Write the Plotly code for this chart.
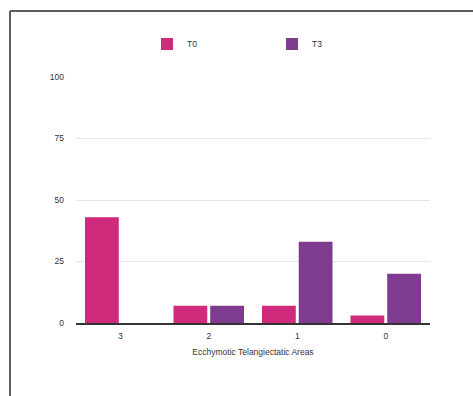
import plotly.graph_objects as go

# Ecchymotic telangiectatic areas score, share of cases at each time point
categories = ["3", "2", "1", "0"]
t0_values = [43, 7, 7, 3]
t3_values = [0, 7, 33, 20]
series_names = ["T0", "T3"]
y_ticks = [0, 25, 50, 75, 100]

colors = ["#cf2a7b", "#7f3b8f"]
font_family = "Liberation Sans, Arial, sans-serif"

fig = go.Figure()
for name, vals, col in zip(series_names, [t0_values, t3_values], colors):
    fig.add_trace(go.Bar(
        x=categories, y=vals, name=name,
        marker=dict(color=col, line=dict(width=0)),
    ))

W, H = 473, 396
L, R, T, B = 76, 43, 77, 73
pw, ph = W - L - R, H - T - B

def px_x(x):
    return (x - L) / pw

def px_y(y):
    return 1 - (y - T) / ph

fig.update_layout(
    width=W, height=H,
    margin=dict(l=L, r=R, t=T, b=B, pad=0),
    paper_bgcolor="white", plot_bgcolor="white",
    font=dict(family=font_family, size=8.5, color="#333"),
    barmode="group", bargap=0.17, bargroupgap=0.08,
    showlegend=True,
    legend=dict(
        orientation="h", x=px_x(272), xanchor="center",
        y=px_y(44), yanchor="middle",
        entrywidth=80, entrywidthmode="pixels",
        font=dict(size=8.5, color="#333"),
        bgcolor="rgba(0,0,0,0)",
    ),
    xaxis=dict(
        showline=True, linecolor="#333", linewidth=1.5,
        showgrid=False, ticks="", tickfont=dict(size=8.5),
        ticklabelstandoff=4,
        title=dict(text="Ecchymotic Telangiectatic Areas",
                   font=dict(size=8.5), standoff=9),
    ),
    yaxis=dict(
        range=[0, 100], tickvals=y_ticks,
        showgrid=True, gridcolor="#e6e6e6", gridwidth=1,
        zeroline=False, showline=False, ticks="",
        ticklabelstandoff=11, tickfont=dict(size=8.5),
    ),
    shapes=[
        dict(type="line", xref="paper", yref="paper",
             x0=px_x(10), x1=px_x(W + 5), y0=px_y(11), y1=px_y(11),
             line=dict(color="#5e5e5e", width=2)),
        dict(type="line", xref="paper", yref="paper",
             x0=px_x(10), x1=px_x(10), y0=px_y(11), y1=px_y(H + 5),
             line=dict(color="#5e5e5e", width=2)),
    ],
)

fig.write_html("out.html")
